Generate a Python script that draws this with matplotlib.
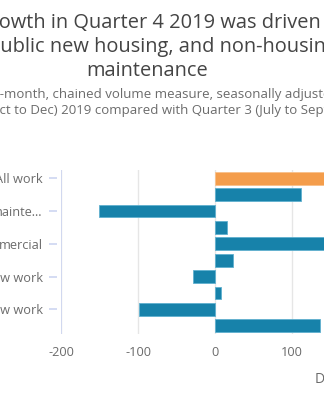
import matplotlib
matplotlib.use("Agg")
import matplotlib.pyplot as plt

# data (top to bottom)
categories = ["All work", "Non-housing repair and maintenance",
              "Private housing repair and mainte...", "Public housing repair and maintenance",
              "Private commercial", "Private industrial", "Public other new work",
              "Infrastructure", "Private other new work", "Public new housing"]
values = [168, 112, -151, 15.6, 150, 23, -28, 8, -99, 137]
colors = ["#f49d4b"] + ["#1782aa"] * 9
shown = [0, 2, 4, 6, 8]
tick_labels = ["All work", "mainte...", "mercial", "ew work", "ew work"]
xticks = [-200, -100, 0, 100, 200]

title_lines = ["Growth in Quarter 4 2019 was driven by",
               "public new housing, and non-housing repair and",
               "maintenance"]
subtitle_lines = ["Three-month on three-month, chained volume measure, seasonally adjusted,",
                  "Quarter 4 (Oct to Dec) 2019 compared with Quarter 3 (July to Sept) 2019"]
xlabel = "Difference (£ million)"

plt.rcParams["font.family"] = ["Open Sans", "DejaVu Sans"]
plt.rcParams["axes.unicode_minus"] = False

W, H = 324, 400
fig = plt.figure(figsize=(W / 100, H / 100), dpi=100)
renderer = fig.canvas.get_renderer()

xmin, xmax = -200, 220
pxu = 0.77
ax = fig.add_axes([61 / W, (H - 334) / H, (xmax - xmin) * pxu / W, 164 / H])

pos = list(range(len(categories)))
bars = ax.barh(pos, values, height=0.78, color=colors, edgecolor="#5fb0cf", linewidth=0.6, zorder=3)
bars[0].set_edgecolor("#f8c08a")

ax.set_xlim(xmin, xmax)
ax.set_ylim(len(categories) - 0.5, -0.5)
ax.set_xticks(xticks)
ax.set_xticklabels([str(v) for v in xticks])
# only every other category gets a label, as in the original
ax.set_yticks(shown)
ax.set_yticklabels(tick_labels)
ax.grid(axis="x", color="#e6e6e6", linewidth=1, zorder=0)
ax.axvline(-200, color="#cdd6f1", linewidth=1.2, zorder=4)
for s in ["top", "right", "bottom"]:
    ax.spines[s].set_visible(False)
ax.spines["left"].set_position(("outward", 3))
ax.spines["left"].set_visible(False)
ax.tick_params(axis="x", length=0, pad=9, labelsize=9.2, labelcolor="#6b6b6b")
ax.tick_params(axis="y", length=6, width=1.2, color="#cdd6f1", pad=4.3,
               labelsize=9.2, labelcolor="#6b6b6b")


def place(text, prefix, x_start, y_base, size, color, ha="left"):
    if ha == "center":
        fig.text(x_start / W, 1 - y_base / H, text, ha="center", va="baseline",
                 fontsize=size, color=color)
        return
    off = 0
    if prefix:
        t = fig.text(0, 0, prefix, fontsize=size)
        off = t.get_window_extent(renderer).width
        t.remove()
    fig.text((x_start - off) / W, 1 - y_base / H, text, ha="left", va="baseline",
             fontsize=size, color=color)


place(title_lines[0], "Gr", -1, 28, 14.4, "#444444")
place(title_lines[1], "p", 0, 52, 14.4, "#444444")
place(title_lines[2], "", 147.5, 76, 14.4, "#444444", ha="center")
place(subtitle_lines[0], "Three-month on three", 0, 98, 9.5, "#6b6b6b")
place(subtitle_lines[1], "Quarter 4 (O", 0, 114, 9.5, "#6b6b6b")
fig.text(315 / W, 1 - 383 / H, xlabel, ha="left", va="baseline", fontsize=10, color="#6b6b6b")

fig.savefig("out.png", dpi=100)
